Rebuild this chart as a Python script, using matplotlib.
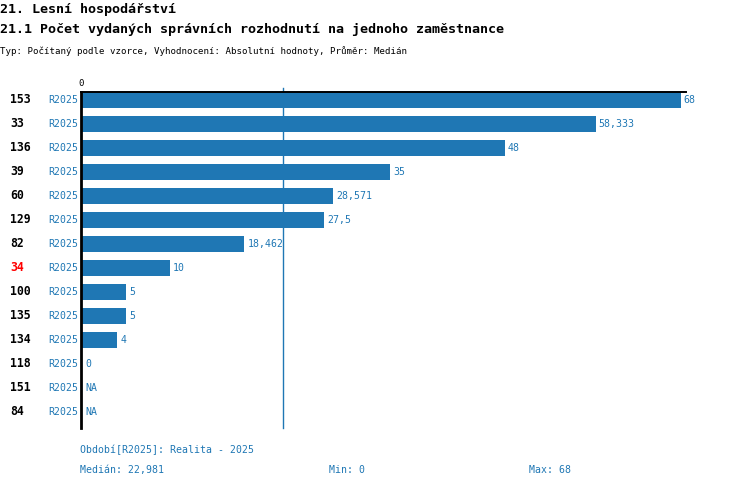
import matplotlib
matplotlib.use("Agg")
import matplotlib.pyplot as plt
import matplotlib.transforms as mtransforms

ids = ["153", "33", "136", "39", "60", "129", "82", "34", "100", "135", "134", "118", "151", "84"]
period = ["R2025"] * 14
values = [68, 58.333, 48, 35, 28.571, 27.5, 18.462, 10, 5, 5, 4, 0, None, None]
labels = ["68", "58,333", "48", "35", "28,571", "27,5", "18,462", "10", "5", "5", "4", "0", "NA", "NA"]
highlight = "34"
median = 22.981
vmin = 0
vmax = 68

blue = "#1f77b4"
mono = "DejaVu Sans Mono"

fig = plt.figure(figsize=(7.5, 4.88), dpi=100)
ax = fig.add_axes([81 / 750, 1 - 428 / 488, (686 - 81) / 750, (428 - 92) / 488])

ys = list(range(len(ids)))
bar_vals = [v if v is not None else 0 for v in values]
ax.barh(ys, bar_vals, height=0.64, color=blue, left=0.1)

for y, v, lab in zip(ys, bar_vals, labels):
    ax.text(v + 0.45, y, lab, color=blue, fontsize=7.1, family=mono,
            va="center", ha="left")

ax.axvline(median, color=blue, lw=1, ymin=0, ymax=1.012, clip_on=False)

ax.set_xlim(0, 68.7)
ax.set_ylim(len(ids) - 1 + 0.667, -0.333)

for s in ["right", "bottom"]:
    ax.spines[s].set_visible(False)
ax.spines["left"].set_linewidth(2)
ax.spines["top"].set_linewidth(1.4)
ax.set_yticks([])
ax.xaxis.tick_top()
ax.set_xticks([0])
ax.set_xticklabels(["0"], family=mono, fontsize=6.5)
ax.tick_params(axis="x", length=0, pad=3)

tr = mtransforms.blended_transform_factory(fig.transFigure, ax.transData)
for y, i, p in zip(ys, ids, period):
    ax.text(10 / 750, y, i, transform=tr, fontsize=8.3, family=mono,
            fontweight="bold", color="red" if i == highlight else "black",
            va="center", ha="left")
    ax.text(78 / 750, y, p, transform=tr, fontsize=7.1, family=mono,
            color=blue, va="center", ha="right")

def ftxt(x, y, s, **kw):
    fig.text(x / 750, 1 - y / 488, s, family=mono, va="center", ha="left", **kw)

ftxt(0, 9, "21. Lesní hospodářství", fontsize=9.6, fontweight="bold")
ftxt(0, 30, "21.1 Počet vydaných správních rozhodnutí na jednoho zaměstnance",
     fontsize=9.6, fontweight="bold")
ftxt(0, 51, "Typ: Počítaný podle vzorce, Vyhodnocení: Absolutní hodnoty, Průměr: Medián",
     fontsize=6.6)
ftxt(80, 450, "Období[R2025]: Realita - 2025", fontsize=7.1, color=blue)
ftxt(80, 470, "Medián: " + f"{median:.3f}".replace(".", ","), fontsize=7.1, color=blue)
ftxt(329, 470, f"Min: {vmin}", fontsize=7.1, color=blue)
ftxt(529, 470, f"Max: {vmax}", fontsize=7.1, color=blue)

fig.savefig("out.png", dpi=100)
